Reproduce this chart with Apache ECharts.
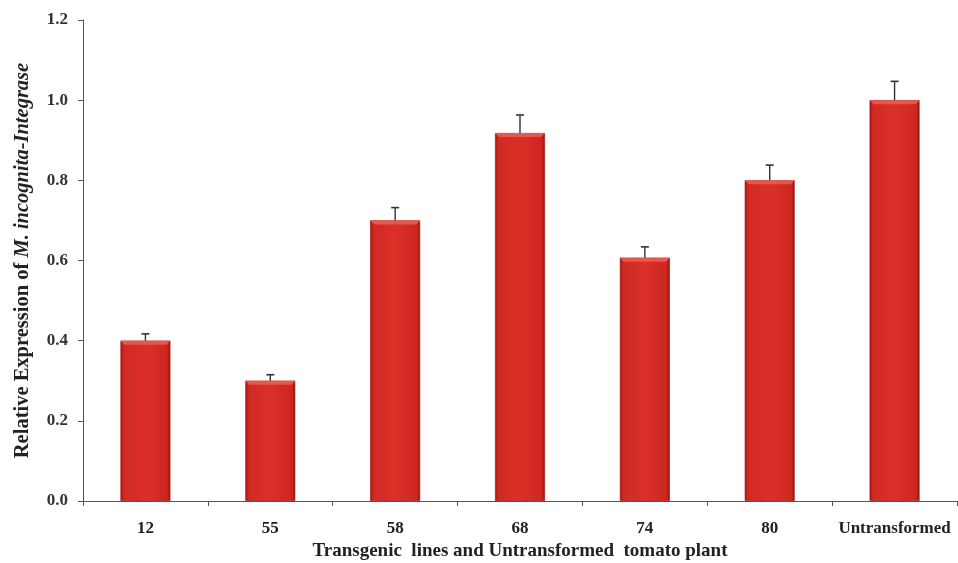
<!DOCTYPE html>
<html><head><meta charset="utf-8">
<script src="https://cdn.jsdelivr.net/npm/echarts@6/dist/echarts.min.js"></script>
<style>html,body{margin:0;padding:0;background:#fff}#c{width:958px;height:563px}</style>
</head><body><div id="c"></div>
<script>
const categories = ['12','55','58','68','74','80','Untransformed'];
const values = [0.40, 0.30, 0.70, 0.918, 0.607, 0.80, 1.00];
const errors = [0.017, 0.015, 0.032, 0.045, 0.027, 0.038, 0.047];
const yTicks = {min: 0, max: 1.2, interval: 0.2};

const chart = echarts.init(document.getElementById('c'));
const font = 'Liberation Serif, Times New Roman, serif';
const barFrac = 0.4;

chart.setOption({
  animation: false,
  backgroundColor: '#fff',
  grid: {left: 83, right: 1, top: 20, bottom: 62, outerBoundsMode: 'none', containLabel: false},
  xAxis: {
    type: 'category', data: categories,
    axisLine: {lineStyle: {color: '#555', width: 1}},
    axisTick: {show: true, length: 5, interval: 0, lineStyle: {color: '#555'}},
    axisLabel: {color: '#222', fontFamily: font, fontWeight: 'bold', fontSize: 17, margin: 19, interval: 0, hideOverlap: false},
    name: 'Transgenic  lines and Untransformed  tomato plant',
    nameLocation: 'middle', nameGap: 41,
    nameTextStyle: {color: '#222', fontFamily: font, fontWeight: 'bold', fontSize: 19}
  },
  yAxis: {
    type: 'value', min: yTicks.min, max: yTicks.max, interval: yTicks.interval,
    axisLine: {show: true, lineStyle: {color: '#555', width: 1}},
    axisTick: {show: true, length: 5, lineStyle: {color: '#555'}},
    splitLine: {show: false},
    axisLabel: {color: '#333', fontFamily: font, fontWeight: 'bold', fontSize: 17, margin: 15,
      formatter: v => v.toFixed(1)},
    name: '{a|Relative Expression of }{b|M. incognita-Integrase}',
    nameLocation: 'middle', nameGap: 50,
    nameTextStyle: {
      rich: {
        a: {color: '#222', fontFamily: font, fontWeight: 'bold', fontSize: 20.5},
        b: {color: '#222', fontFamily: font, fontWeight: 'bold', fontStyle: 'italic', fontSize: 20.5}
      }
    }
  },
  series: [
    {
      type: 'bar', data: values, barWidth: (barFrac * 100) + '%',
      itemStyle: {
        color: new echarts.graphic.LinearGradient(0, 0, 1, 0, [
          {offset: 0, color: '#a8160f'},
          {offset: 0.07, color: '#cf2a22'},
          {offset: 0.5, color: '#db3028'},
          {offset: 0.93, color: '#cc2720'},
          {offset: 1, color: '#9c140e'}
        ]),
        borderColor: '#9a1510', borderWidth: 0.6
      }
    },
    {
      type: 'custom', z: 5,
      data: values.map((v, i) => [i, v, errors[i]]),
      renderItem: function (params, api) {
        const i = api.value(0), v = api.value(1), e = api.value(2);
        const top = api.coord([i, v]);
        const hi = api.coord([i, v + e]);
        const w = api.size([1, 0])[0] * barFrac;
        const x0 = top[0] - w / 2, x1 = top[0] + w / 2;
        const b = 4;
        return {
          type: 'group',
          children: [
            {type: 'polygon', shape: {points: [[x0, top[1]], [x1, top[1]], [x1 - b, top[1] + b], [x0 + b, top[1] + b]]},
              style: {fill: '#e8574e'}},
            {type: 'line', shape: {x1: top[0], y1: top[1], x2: hi[0], y2: hi[1]},
              style: {stroke: '#333', lineWidth: 1.4}},
            {type: 'line', shape: {x1: hi[0] - 4, y1: hi[1], x2: hi[0] + 4, y2: hi[1]},
              style: {stroke: '#333', lineWidth: 1.6}}
          ]
        };
      }
    }
  ]
});
</script></body></html>
